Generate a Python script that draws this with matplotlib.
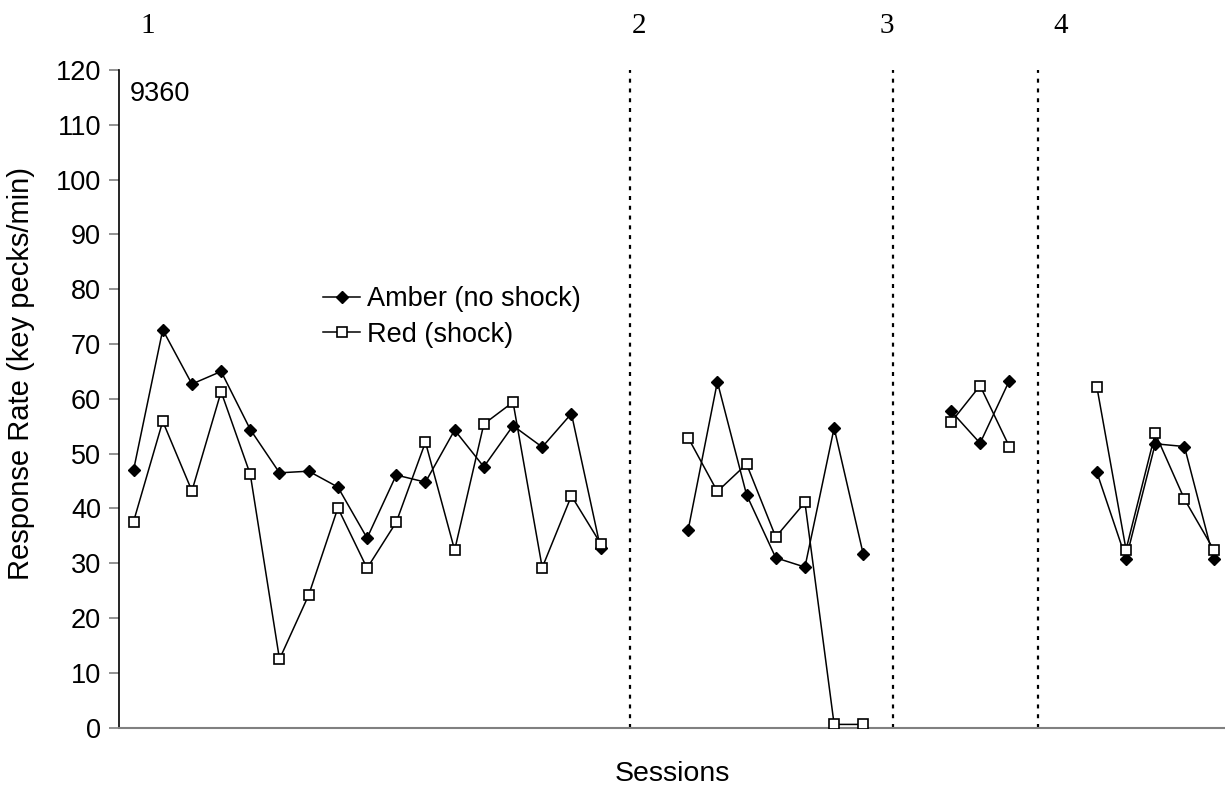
import matplotlib.pyplot as plt
import numpy as np

plt.rcParams['font.family'] = ['Liberation Sans', 'DejaVu Sans']

# sessions and response rates (key pecks/min), one list per phase
sess_1 = list(range(1, 18))
amber_1 = [47.0, 72.6, 62.7, 65.0, 54.4, 46.5, 46.8, 43.9, 34.6, 46.1, 44.8, 54.3, 47.6, 55.1, 51.2, 57.3, 32.7]
red_1 = [37.6, 55.9, 43.2, 61.3, 46.2, 12.5, 24.2, 40.1, 29.1, 37.5, 52.1, 32.4, 55.4, 59.4, 29.2, 42.3, 33.6]

sess_2 = list(range(20, 27))
amber_2 = [36.1, 63.1, 42.5, 31.0, 29.3, 54.7, 31.6]
red_2 = [52.9, 43.1, 48.1, 34.8, 41.1, 0.6, 0.6]

sess_3 = [29, 30, 31]
amber_3 = [57.8, 51.9, 63.3]
red_3 = [55.7, 62.4, 51.3]

sess_4 = [34, 35, 36, 37, 38]
amber_4 = [46.6, 30.8, 51.8, 51.3, 30.8]
red_4 = [62.2, 32.5, 53.7, 41.7, 32.5]

phase_breaks = [18, 27, 32]
phase_labels = ["1", "2", "3", "4"]
phase_label_x = [1.5, 18.3, 26.8, 32.75]

fig = plt.figure(figsize=(12.25, 7.89), dpi=100)
ax = fig.add_axes([0.0971, 0.0777, 0.9029, 0.8336])

phases = [(sess_1, amber_1, red_1), (sess_2, amber_2, red_2),
          (sess_3, amber_3, red_3), (sess_4, amber_4, red_4)]
for k, (s, a, r) in enumerate(phases):
    ax.plot(s, a, color='black', lw=1.1, marker='D', ms=6, mfc='black', mec='black',
            label='Amber (no shock)' if k == 0 else None, zorder=3)
    ax.plot(s, r, color='black', lw=1.1, marker='s', ms=7, mfc='white', mec='black', mew=1.2,
            label='Red (shock)' if k == 0 else None, zorder=4)

for b in phase_breaks:
    ax.axvline(b, color='black', lw=1.6, linestyle=(0, (1.8, 2.6)), zorder=2)

ax.set_xlim(0.5, 38.39)
ax.set_ylim(0, 120)
ax.set_yticks(np.arange(0, 121, 10))
ax.set_xticks([])
ax.tick_params(axis='y', direction='out', length=7, width=1.2, color='#808080',
               labelsize=19.5, pad=6)
for side in ['top', 'right']:
    ax.spines[side].set_visible(False)
ax.spines['left'].set_color('black')
ax.spines['left'].set_linewidth(1.2)
ax.spines['bottom'].set_color('#808080')
ax.spines['bottom'].set_linewidth(1.5)

ax.set_xlabel('Sessions', fontsize=20.5, labelpad=24)
ax.set_ylabel('Response Rate (key pecks/min)', fontsize=21)
ax.yaxis.set_label_coords(-0.076, 0.539)

ax.text(0.86, 115.6, '9360', fontsize=19.5, va='center', ha='left')

for lab, xp in zip(phase_labels, phase_label_x):
    ax.text(xp, 128.0, lab, fontsize=21, family='Liberation Serif',
            ha='center', va='center', clip_on=False)

ax.legend(loc='upper left', bbox_to_anchor=(0.175, 0.688), frameon=False,
          fontsize=19.5, handlelength=1.35, handletextpad=0.25, labelspacing=0.36,
          numpoints=1, borderaxespad=0)

fig.savefig('out.png', dpi=100)
